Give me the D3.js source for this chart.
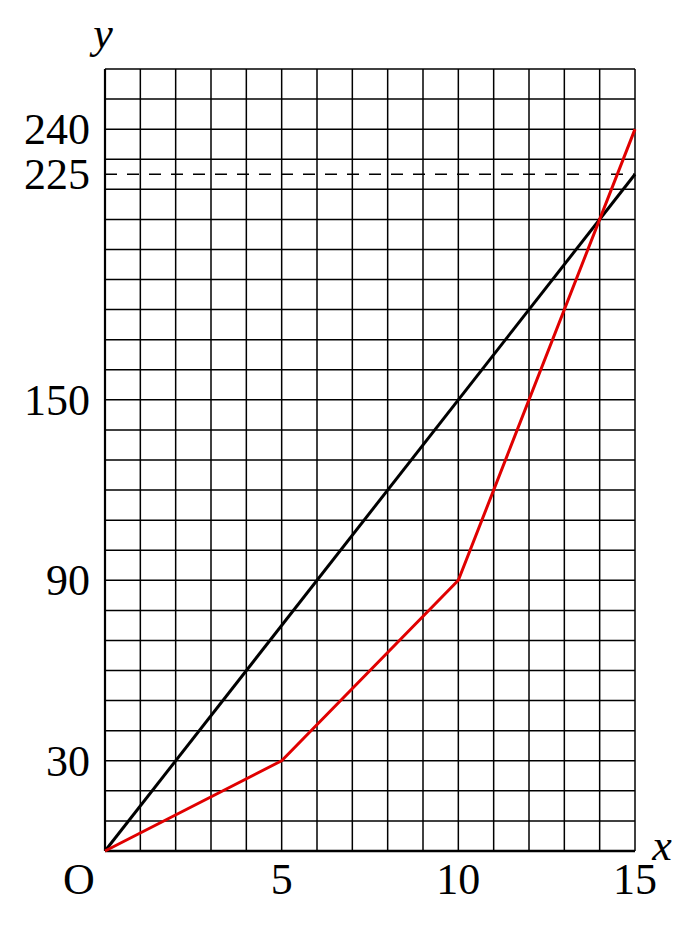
<!DOCTYPE html>
<html><head><meta charset="utf-8">
<script src="https://cdn.jsdelivr.net/npm/d3@7"></script>
<style>body{margin:0;background:#fff}</style>
</head><body>
<script>
const xDomain = [0, 15];
const yDomain = [0, 260];
const xGridStep = 1;
const yGridStep = 10;
const xTickLabels = [5, 10, 15];
const yTickLabels = [30, 90, 150, 225, 240];
const blackX = [0, 15];
const blackY = [0, 225];
const redX = [0, 5, 10, 15];
const redY = [0, 30, 90, 240];
const dashedY = [225];

const W = 699, H = 933;
const svg = d3.select("body").append("svg").attr("width", W).attr("height", H);
const x = d3.scaleLinear().domain(xDomain).range([105, 635]);
const y = d3.scaleLinear().domain(yDomain).range([851, 69]);
const font = "'Liberation Serif', 'DejaVu Serif', serif";

const xs = d3.range(xDomain[0], xDomain[1] + 0.001, xGridStep);
const ys = d3.range(yDomain[0], yDomain[1] + 0.001, yGridStep);

svg.append("g").selectAll("line").data(xs).join("line")
  .attr("x1", d => x(d)).attr("x2", d => x(d))
  .attr("y1", y(yDomain[0])).attr("y2", y(yDomain[1]))
  .attr("stroke", "#000").attr("stroke-width", d => d === 0 ? 2.2 : 1.5);
svg.append("g").selectAll("line").data(ys).join("line")
  .attr("y1", d => y(d)).attr("y2", d => y(d))
  .attr("x1", x(xDomain[0])).attr("x2", x(xDomain[1]))
  .attr("stroke", "#000").attr("stroke-width", d => d === 0 ? 2.6 : 1.5);

// dashed reference line
svg.append("g").selectAll("line").data(dashedY).join("line")
  .attr("y1", d => y(d)).attr("y2", d => y(d))
  .attr("x1", x(xDomain[0])).attr("x2", x(xDomain[1]))
  .attr("stroke", "#000").attr("stroke-width", 1.5)
  .attr("stroke-dasharray", "12,10");

const line = d3.line().x(d => x(d[0])).y(d => y(d[1]));
svg.append("path").datum(blackX.map((v, i) => [v, blackY[i]]))
  .attr("d", line).attr("fill", "none").attr("stroke", "#000").attr("stroke-width", 3);
svg.append("path").datum(redX.map((v, i) => [v, redY[i]]))
  .attr("d", line).attr("fill", "none").attr("stroke", "#e00000").attr("stroke-width", 3)
  .attr("stroke-linejoin", "round");

// y tick labels
svg.append("g").selectAll("text").data(yTickLabels).join("text")
  .attr("x", 90).attr("y", d => y(d) + 15)
  .attr("text-anchor", "end").attr("font-family", font).attr("font-size", 44)
  .text(d => d);
// x tick labels
svg.append("g").selectAll("text").data(xTickLabels).join("text")
  .attr("x", d => x(d)).attr("y", 894)
  .attr("text-anchor", "middle").attr("font-family", font).attr("font-size", 44)
  .text(d => d);
svg.append("text").attr("x", 79).attr("y", 894).attr("text-anchor", "middle")
  .attr("font-family", font).attr("font-size", 44).text("O");
svg.append("text").attr("x", 103).attr("y", 48).attr("text-anchor", "middle")
  .attr("font-family", font).attr("font-style", "italic").attr("font-size", 44).text("y");
svg.append("text").attr("x", 662).attr("y", 860).attr("text-anchor", "middle")
  .attr("font-family", font).attr("font-style", "italic").attr("font-size", 44).text("x");
</script>
</body></html>
